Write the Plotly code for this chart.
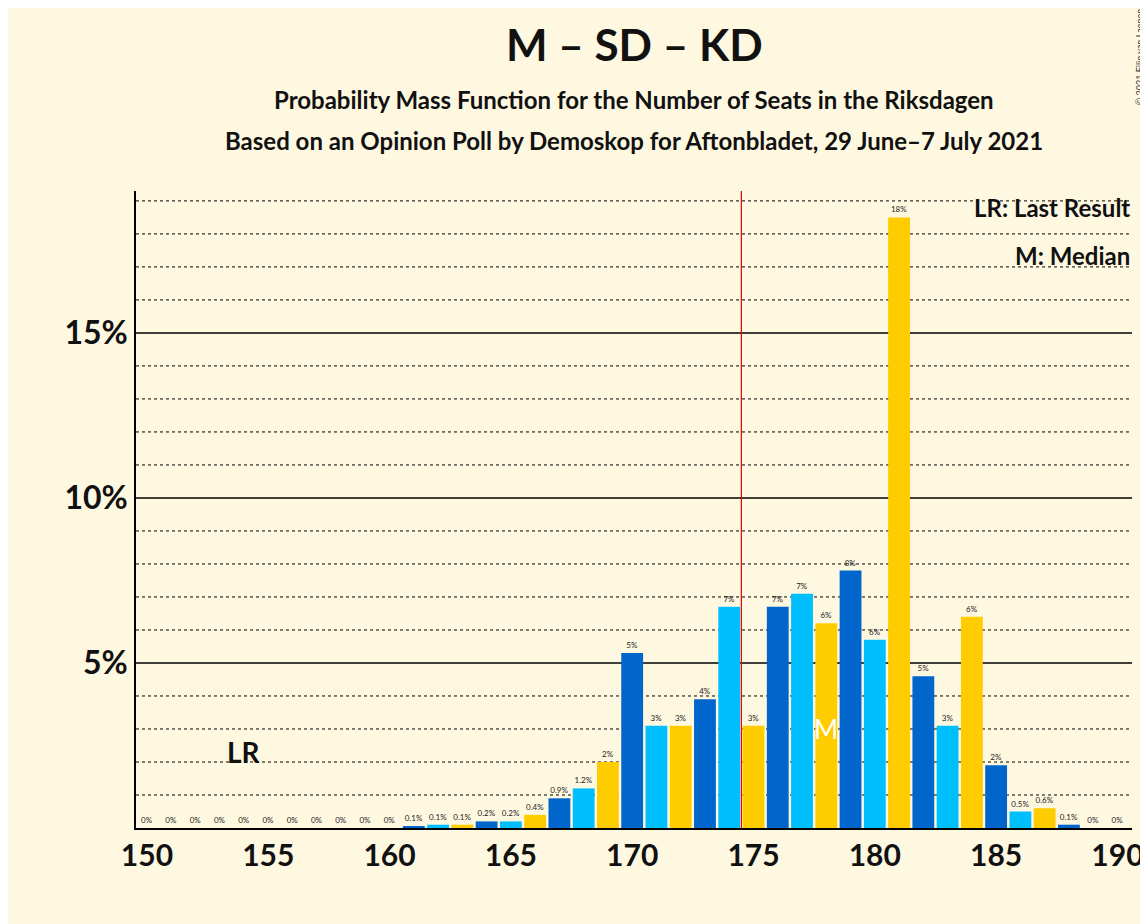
import plotly.graph_objects as go

seats = list(range(150, 191))
probs = [0, 0, 0, 0, 0, 0, 0, 0, 0, 0, 0, 0.05, 0.1, 0.1, 0.2, 0.2, 0.4, 0.9, 1.2, 2.0,
         5.3, 3.1, 3.1, 3.9, 6.7, 3.1, 6.7, 7.1, 6.2, 7.8, 5.7, 18.5, 4.6, 3.1, 6.4, 1.9,
         0.5, 0.6, 0.1, 0, 0]
labels = ["0%"] * 11 + ["0.1%", "0.1%", "0.1%", "0.2%", "0.2%", "0.4%", "0.9%", "1.2%", "2%",
          "5%", "3%", "3%", "4%", "7%", "3%", "7%", "7%", "6%", "8%", "6%", "18%", "5%", "3%",
          "6%", "2%", "0.5%", "0.6%", "0.1%", "0%", "0%"]
palette = {2: "#0066CC", 0: "#00BFFF", 1: "#FFCC00"}
colors = [palette[s % 3] for s in seats]
last_result = 154
median = 178
majority = 174.5

bg = "#FFF8E1"
fig = go.Figure(go.Bar(x=seats, y=probs, marker_color=colors, marker_line_width=0,
                       width=0.9, text=labels, textposition="outside", cliponaxis=False,
                       textfont=dict(size=8, color="#222"), hoverinfo="skip"))

shapes = []
for g in range(1, 20):
    major = g % 5 == 0
    shapes.append(dict(type="line", xref="paper", x0=0, x1=1, y0=g, y1=g, layer="below",
                       line=dict(color="black", width=1.5 if major else 1,
                                 dash="solid" if major else "dot")))
shapes.append(dict(type="line", x0=majority, x1=majority, yref="paper", y0=0, y1=1,
                   line=dict(color="#E00000", width=1.2)))
fig.update_layout(shapes=shapes)

fig.add_annotation(x=last_result, y=2.3, text="<b>LR</b>", showarrow=False,
                   font=dict(size=28, color="#111"))
fig.add_annotation(x=median, y=3.0, text="M", showarrow=False,
                   font=dict(size=26, color="white"))
fig.add_annotation(xref="paper", yref="paper", x=1, y=1.0, text="<b>LR: Last Result</b>",
                   showarrow=False, xanchor="right", yanchor="top", font=dict(size=24, color="#111"))
fig.add_annotation(xref="paper", yref="paper", x=1, y=0.925, text="<b>M: Median</b>",
                   showarrow=False, xanchor="right", yanchor="top", font=dict(size=24, color="#111"))
fig.add_annotation(xref="paper", yref="paper", x=0.5, y=1.275, text="<b>M – SD – KD</b>",
                   showarrow=False, font=dict(size=44, color="#111"))
fig.add_annotation(xref="paper", yref="paper", x=0.5, y=1.17,
                   text="<b>Probability Mass Function for the Number of Seats in the Riksdagen</b>",
                   showarrow=False, font=dict(size=24, color="#111"))
fig.add_annotation(xref="paper", yref="paper", x=0.5, y=1.105,
                   text="<b>Based on an Opinion Poll by Demoskop for Aftonbladet, 29 June–7 July 2021</b>",
                   showarrow=False, font=dict(size=24, color="#111"))
fig.add_annotation(xref="paper", yref="paper", x=1.0, y=1.29, text="© 2021 Filip van Laenen",
                   textangle=-90, showarrow=False, xanchor="left", yanchor="top",
                   font=dict(size=9, color="#333"))

fig.update_layout(
    width=1148, height=924, paper_bgcolor=bg, plot_bgcolor=bg,
    margin=dict(l=128, r=24, t=183, b=104),
    font=dict(family="Lato, DejaVu Sans, sans-serif"),
    showlegend=False, bargap=0.1,
    xaxis=dict(range=[149.55, 190.6], tickvals=[150, 155, 160, 165, 170, 175, 180, 185, 190],
               ticktext=[f"<b>{v}</b>" for v in [150, 155, 160, 165, 170, 175, 180, 185, 190]],
               showgrid=False, zeroline=False, showline=True, linecolor="black", linewidth=1.5,
               ticks="", tickfont=dict(size=30, color="#111")),
    yaxis=dict(range=[0, 19.3], tickvals=[5, 10, 15], ticktext=["<b>5%</b>", "<b>10%</b>", "<b>15%</b>"],
               showgrid=False, zeroline=False, showline=True, linecolor="black", linewidth=1.5,
               tickfont=dict(size=32, color="#111")),
)

fig.write_html("out.html")
